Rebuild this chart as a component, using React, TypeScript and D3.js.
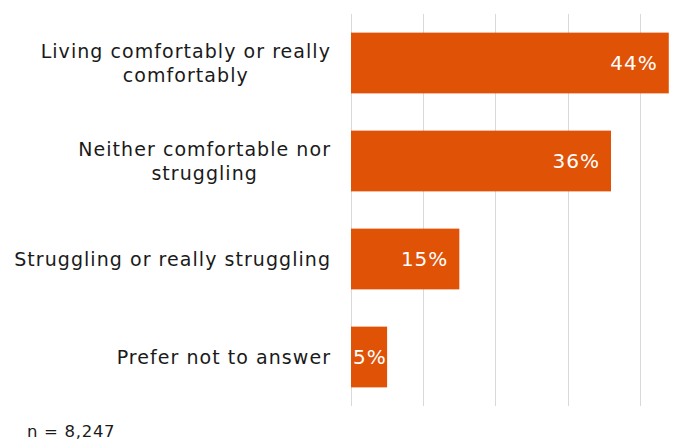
import React, { useEffect, useRef } from "react";
import * as d3 from "d3";

const categories: string[][] = [
  ["Living comfortably or really", "comfortably"],
  ["Neither comfortable nor", "struggling"],
  ["Struggling or really struggling"],
  ["Prefer not to answer"],
];
const values: number[] = [44, 36, 15, 5];
const gridTicks: number[] = [0, 10, 20, 30, 40];
const footnote = "n = 8,247";

const W = 699;
const H = 441;
const ORANGE = "#E05206";
const FONT = "'DejaVu Sans', Verdana, sans-serif";

export default function App() {
  const ref = useRef<SVGSVGElement | null>(null);

  useEffect(() => {
    const svg = d3.select(ref.current);
    svg.selectAll("*").remove();

    const x = d3.scaleLinear().domain([0, 45]).range([351, 676]);
    const y = d3
      .scaleBand<number>()
      .domain(d3.range(values.length))
      .range([14, 406])
      .paddingInner(0.38)
      .paddingOuter(0.19);

    // gridlines
    svg
      .append("g")
      .selectAll("line")
      .data(gridTicks)
      .join("line")
      .attr("x1", (d) => Math.round(x(d)) + 0.5)
      .attr("x2", (d) => Math.round(x(d)) + 0.5)
      .attr("y1", 14)
      .attr("y2", 406)
      .attr("stroke", "#d9d9d9")
      .attr("stroke-width", 1);

    // bars
    svg
      .append("g")
      .selectAll("rect")
      .data(values)
      .join("rect")
      .attr("x", x(0))
      .attr("y", (_, i) => y(i)!)
      .attr("width", (d) => x(d) - x(0))
      .attr("height", y.bandwidth())
      .attr("fill", ORANGE);

    // value labels
    const vg = svg.append("g");
    values.forEach((v, i) => {
      const t = vg
        .append("text")
        .text(`${v}%`)
        .attr("font-family", FONT)
        .attr("font-size", 20)
        .attr("letter-spacing", 1)
        .attr("fill", "#ffffff")
        .attr("y", y(i)! + y.bandwidth() / 2)
        .attr("dy", "0.36em");
      const w = (t.node() as SVGTextElement).getComputedTextLength();
      const xs = Math.max(x(0) + 2, x(v) - 11 - w);
      t.attr("x", xs);
    });

    // category labels
    const cg = svg.append("g");
    const lineH = 24;
    categories.forEach((lines, i) => {
      const cy = y(i)! + y.bandwidth() / 2;
      const texts = lines.map((l) =>
        cg
          .append("text")
          .text(l)
          .attr("font-family", FONT)
          .attr("font-size", 19)
          .attr("letter-spacing", 1.05)
          .attr("fill", "#1a1a1a")
          .attr("text-anchor", "middle")
      );
      const widths = texts.map((t) => (t.node() as SVGTextElement).getComputedTextLength());
      const maxW = Math.max(...widths);
      const center = 331 - maxW / 2;
      const n = lines.length;
      texts.forEach((t, k) => {
        t.attr("x", center)
          .attr("y", cy + (k - (n - 1) / 2) * lineH)
          .attr("dy", "0.36em");
      });
    });

    svg
      .append("text")
      .text(footnote)
      .attr("x", 27)
      .attr("y", 437)
      .attr("font-family", FONT)
      .attr("font-size", 16.5)
      .attr("letter-spacing", 0.7)
      .attr("fill", "#1a1a1a");
  }, []);

  return (
    <svg
      ref={ref}
      width={W}
      height={H}
      style={{ position: "absolute", left: 0, top: 0, background: "#ffffff" }}
    />
  );
}
